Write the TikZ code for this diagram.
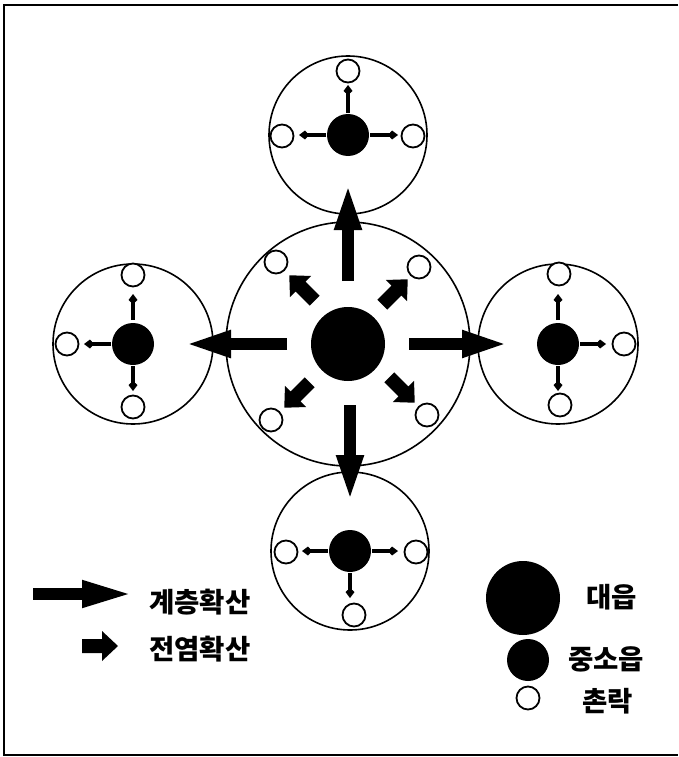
\documentclass[tikz,border=0pt]{standalone}
\usepackage{fontspec}
\newfontfamily\kr{Noto Sans CJK KR}
\usetikzlibrary{arrows.meta,calc}
\begin{document}
\begin{tikzpicture}[x=1pt,y=-1pt,
  ring/.style={draw,line width=1.6pt},
  village/.style={circle,draw,line width=1.8pt,fill=white,minimum size=23pt,inner sep=0pt},
  city/.style={circle,fill=black,minimum size=42pt,inner sep=0pt},
  bigcity/.style={circle,fill=black,minimum size=74pt,inner sep=0pt},
  hier/.style={line width=12pt,-{Triangle[length=48pt,width=24pt]}},
  small/.style={line width=3.5pt,-{Kite[length=10pt,width=9pt,inset=4pt]}},
  lbl/.style={anchor=west,inner sep=0pt,font=\kr\bfseries\fontsize{27.5}{31}\selectfont},
  blockarr/.pic={\fill (-18,-7) -- (2,-7) -- (2,-15) -- (18,0) -- (2,15) -- (2,7) -- (-18,7) -- cycle;}
]
\useasboundingbox (0,0) rectangle (678,757);
% frame
\draw[line width=1.5pt] (678,5) -- (4,5) -- (4,755) -- (678,755);

% centres
\coordinate (M) at (348,344);
\coordinate (T) at (348,135);
\coordinate (L) at (133,344);
\coordinate (R) at (558,344);
\coordinate (B) at (350,551);

% rings
\draw[ring] (M) circle (122);
\draw[ring] (T) circle (79);
\draw[ring] (L) circle (80);
\draw[ring] (R) circle (80);
\draw[ring] (B) circle (79);

% main centre
\node[bigcity] (Mc) at (M) {};
\node[village] (m1) at (276,262) {};
\node[village] (m2) at (419,267) {};
\node[village] (m3) at (271,420) {};
\node[village] (m4) at (427,415) {};

% hierarchical arrows
\draw[hier] ($(M)+(0,-63)$) -- ($(T)+(0,47)$);
\draw[hier] ($(M)+(-61,0)$) -- ($(L)+(50,0)$);
\draw[hier] ($(M)+(61,0)$) -- ($(R)+(-48,0)$);
\draw[hier] ($(M)+(2,61)$) -- ($(B)+(0,-48)$);

% contagious arrows
\pic[rotate=135] at (302,288) {blockarr};
\pic[rotate=45] at (395,292) {blockarr};
\pic[rotate=225] at (297,395) {blockarr};
\pic[rotate=315] at (402,390) {blockarr};

% top satellite
\node[city] (Tc) at (T) {};
\node[village] (t1) at ($(T)+(0,-64)$) {};
\node[village] (t2) at ($(T)+(-66,1)$) {};
\node[village] (t3) at ($(T)+(65,1)$) {};
\draw[small] ($(T)+(0,-22)$) -- ($(T)+(0,-50)$);
\draw[small] ($(T)+(-22,0)$) -- ($(T)+(-49,0)$);
\draw[small] ($(T)+(22,0)$) -- ($(T)+(50,0)$);

% left satellite
\node[city] (Lc) at (L) {};
\node[village] (l1) at ($(L)+(0,-69)$) {};
\node[village] (l2) at ($(L)+(-66,0)$) {};
\node[village] (l3) at ($(L)+(0,63)$) {};
\draw[small] ($(L)+(0,-24)$) -- ($(L)+(0,-50)$);
\draw[small] ($(L)+(-22,0)$) -- ($(L)+(-49,0)$);
\draw[small] ($(L)+(0,22)$) -- ($(L)+(0,47)$);

% right satellite
\node[city] (Rc) at (R) {};
\node[village] (r1) at ($(R)+(1,-70)$) {};
\node[village] (r2) at ($(R)+(66,0)$) {};
\node[village] (r3) at ($(R)+(2,61)$) {};
\draw[small] ($(R)+(0,-24)$) -- ($(R)+(0,-50)$);
\draw[small] ($(R)+(22,0)$) -- ($(R)+(48,0)$);
\draw[small] ($(R)+(0,22)$) -- ($(R)+(0,47)$);

% bottom satellite
\node[city] (Bc) at (B) {};
\node[village] (b1) at ($(B)+(-64,1)$) {};
\node[village] (b2) at ($(B)+(66,1)$) {};
\node[village] (b3) at ($(B)+(4,64)$) {};
\draw[small] ($(B)+(-22,0)$) -- ($(B)+(-48,0)$);
\draw[small] ($(B)+(22,0)$) -- ($(B)+(48,0)$);
\draw[small] ($(B)+(0,22)$) -- ($(B)+(0,47)$);

% legend
\coordinate (la) at (33,594);
\coordinate (lb) at (135,594);
\draw[line width=12pt,-{Triangle[length=53pt,width=24pt]}] (la) -- (lb);
\node[lbl] (t-hier) at (149,602) {계층확산};
\pic at (100,646) {blockarr};
\node[lbl] (t-cont) at (149,649) {전염확산};
\node[bigcity] (k1) at (523,598) {};
\node[lbl] (t-k1) at (586,597) {대읍};
\node[city] (k2) at (528,660) {};
\node[lbl] (t-k2) at (568,659) {중소읍};
\node[village] (k3) at (528,698) {};
\node[lbl] (t-k3) at (582,701) {촌락};
\end{tikzpicture}
\end{document}
